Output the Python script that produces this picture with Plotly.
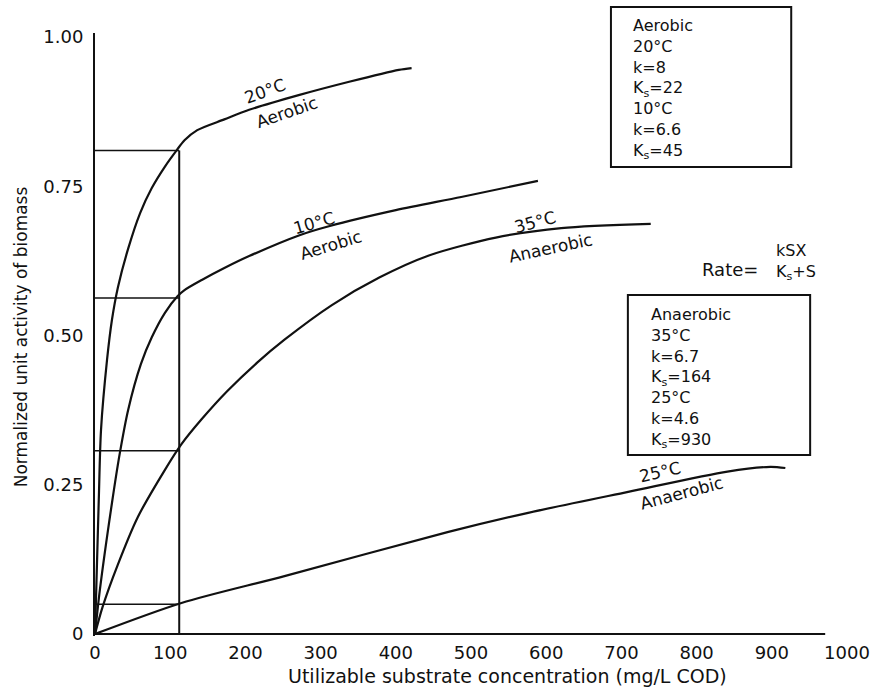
import plotly.graph_objects as go

# ---------------- data ----------------
x_ticks = [0, 100, 200, 300, 400, 500, 600, 700, 800, 900, 1000]
y_ticks = [0, 0.25, 0.5, 0.75, 1.0]
y_tick_text = ["0", "0.25", "0.50", "0.75", "1.00"]

aer20_x = [0, 5, 8, 16, 22.5, 30.5, 44, 60, 75.5, 93, 109, 119, 136, 172, 205, 272, 338, 404, 421]
aer20_y = [0, 0.224, 0.342, 0.459, 0.526, 0.581, 0.645, 0.705, 0.747, 0.783, 0.811, 0.827,
           0.844, 0.862, 0.878, 0.903, 0.925, 0.945, 0.948]

aer10_x = [0, 6.6, 22.5, 33, 44, 61, 75.5, 93, 110, 119, 142, 172, 205, 272, 311, 400, 487, 589]
aer10_y = [0, 0.075, 0.219, 0.303, 0.375, 0.452, 0.497, 0.538, 0.566, 0.576, 0.593, 0.613,
           0.633, 0.668, 0.683, 0.710, 0.732, 0.759]

ana35_x = [0, 10, 30, 57, 93, 115, 142, 176, 216, 252, 315, 378, 444, 533, 620, 739]
ana35_y = [0, 0.045, 0.115, 0.196, 0.275, 0.318, 0.360, 0.407, 0.455, 0.493, 0.551, 0.597,
           0.634, 0.664, 0.680, 0.687]

ana25_x = [0, 115, 252, 470, 576, 709, 841, 898, 918]
ana25_y = [0, 0.052, 0.097, 0.171, 0.203, 0.238, 0.272, 0.280, 0.278]

ref_levels = [0.81, 0.563, 0.307, 0.050]   # horizontal guides
ref_x = 112                                # vertical guide
axis_end = 971                             # end of drawn x-axis line

aer_box = ["Aerobic", "20°C", "k=8", "K<sub>s</sub>=22", "10°C", "k=6.6", "K<sub>s</sub>=45"]
ana_box = ["Anaerobic", "35°C", "k=6.7", "K<sub>s</sub>=164", "25°C", "k=4.6", "K<sub>s</sub>=930"]

# ---------------- layout geometry ----------------
W, H = 882, 687
L, R, T, B = 95, 32, 33, 51
PW, PH = W - L - R, H - T - B
FONT = "DejaVu Sans"
INK = "#111111"


def pp(x, y):
    """pixel -> paper coords"""
    return (x - L) / PW, (H - B - y) / PH


fig = go.Figure()

line = dict(color=INK, width=2.2, shape="spline", smoothing=0.8)
for xs, ys in [(aer20_x, aer20_y), (aer10_x, aer10_y), (ana35_x, ana35_y), (ana25_x, ana25_y)]:
    fig.add_trace(go.Scatter(x=xs, y=ys, mode="lines", line=line, hoverinfo="skip"))

thin = dict(color=INK, width=1.5)
for lv in ref_levels:
    fig.add_trace(go.Scatter(x=[0, ref_x], y=[lv, lv], mode="lines", line=thin, hoverinfo="skip"))
fig.add_trace(go.Scatter(x=[ref_x, ref_x], y=[0, ref_levels[0]], mode="lines",
                         line=dict(color=INK, width=2), hoverinfo="skip"))
fig.add_trace(go.Scatter(x=[0, axis_end], y=[0, 0], mode="lines",
                         line=dict(color=INK, width=2), hoverinfo="skip"))

ann = []


def text(px_, py_, s, size=16, angle=0, xanchor="center"):
    x, y = pp(px_, py_)
    ann.append(dict(x=x, y=y, xref="paper", yref="paper", text=s, showarrow=False,
                    textangle=angle, xanchor=xanchor, yanchor="middle", align="left",
                    font=dict(family=FONT, size=size, color=INK)))


# curve labels
text(266, 91, "20°C", 17, -20)
text(288, 112, "Aerobic", 17, -19)
text(315, 223, "10°C", 17, -16)
text(332, 245, "Aerobic", 17, -17)
text(537, 222, "35°C", 17, -15)
text(552, 248, "Anaerobic", 17, -12)
text(662, 472, "25°C", 17, -13)
text(684, 493, "Anaerobic", 17, -15)

# boxes text
text(633, 89, "<br>".join(aer_box), 16, 0, "left")
text(651, 378, "<br>".join(ana_box), 16, 0, "left")

# rate equation
text(702, 269, "Rate=", 18, 0, "left")
text(777, 262, "kSX<br>K<sub>s</sub>+S", 16, 0, "left")

# axis titles
text(509, 676, "Utilizable substrate concentration (mg/L COD)", 19)
text(21, 337, "Normalized unit activity of biomass", 17, -90)

shapes = []
for (x0, y0, x1, y1) in [(613, 7, 794, 167), (630, 295, 813, 455)]:
    a0, b0 = pp(x0, y0)
    a1, b1 = pp(x1, y1)
    shapes.append(dict(type="rect", xref="paper", yref="paper", x0=a0, y0=b1, x1=a1, y1=b0,
                       line=dict(color=INK, width=2)))

fig.update_layout(
    width=W, height=H,
    margin=dict(l=L, r=R, t=T, b=B, pad=0),
    paper_bgcolor="white", plot_bgcolor="white",
    showlegend=False,
    annotations=ann, shapes=shapes,
    font=dict(family=FONT, color=INK),
    xaxis=dict(range=[0, 1000], tickvals=x_ticks, showgrid=False, zeroline=False,
               showline=False, ticks="", ticklabelstandoff=4,
               tickfont=dict(family=FONT, size=18, color=INK)),
    yaxis=dict(range=[-2 / 597, 1 + 4 / 597], tickvals=y_ticks, ticktext=y_tick_text,
               showgrid=False, zeroline=False, showline=True, linecolor=INK, linewidth=2,
               ticks="", ticklabelstandoff=6, tickfont=dict(family=FONT, size=18, color=INK)),
)

fig.write_html("out.html")
